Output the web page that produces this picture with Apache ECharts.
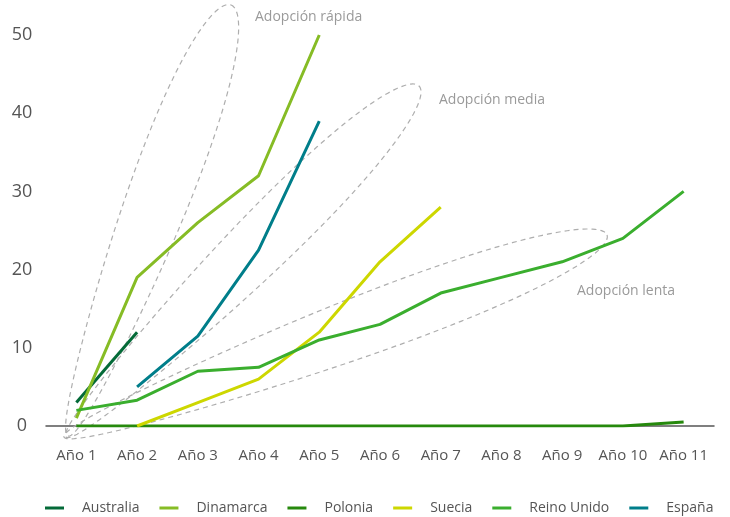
<!DOCTYPE html>
<html><head><meta charset="utf-8">
<script src="https://cdn.jsdelivr.net/npm/echarts@6/dist/echarts.min.js"></script>
<style>html,body{margin:0;padding:0;background:#fff}#c{width:730px;height:517px}</style>
</head><body><div id="c"></div>
<script>
const categories = ['Año 1','Año 2','Año 3','Año 4','Año 5','Año 6','Año 7','Año 8','Año 9','Año 10','Año 11'];
const australia  = [3, 12, null, null, null, null, null, null, null, null, null];
const dinamarca  = [1, 19, 26, 32, 50, null, null, null, null, null, null];
const polonia    = [0, 0, 0, 0, 0, 0, 0, 0, 0, 0, 0.5];
const suecia     = [null, 0, 3, 6, 12, 21, 28, null, null, null, null];
const reinoUnido = [2, 3.3, 7, 7.5, 11, 13, 17, 19, 21, 24, 30];
const espana     = [null, 5, 11.5, 22.5, 39, null, null, null, null, null, null];
const yTicks = [0, 10, 20, 30, 40, 50];
const groupLabels = ['Adopción rápida', 'Adopción media', 'Adopción lenta'];

const FONT = '"Open Sans", "Noto Sans", sans-serif';
const names = ['Australia','Dinamarca','Polonia','Suecia','Reino Unido','España'];
const colors = ['#046A38','#86BC25','#26890D','#CDD700','#3AAE2E','#007E8A'];
const dataSets = [australia, dinamarca, polonia, suecia, reinoUnido, espana];

// egg-shaped dashed outline from p1 (narrow end) to p2 (round end)
function eggPts(x1, y1, x2, y2, b, k) {
  const cx = (x1 + x2) / 2, cy = (y1 + y2) / 2;
  const a = Math.hypot(x2 - x1, y2 - y1) / 2;
  const th = Math.atan2(y2 - y1, x2 - x1);
  const pts = [];
  for (let i = 0; i < 200; i++) {
    const t = i / 200 * Math.PI * 2;
    const u = a * Math.cos(t);
    const v = b * Math.sin(t) * (1 + k * Math.cos(t)) / (1 + k * 0.3);
    pts.push([cx + u * Math.cos(th) - v * Math.sin(th), cy + u * Math.sin(th) + v * Math.cos(th)]);
  }
  return pts;
}
const ellStyle = { fill: null, stroke: '#aeaeae', lineWidth: 1.2, lineDash: [5, 4] };
const graphics = [
  { type: 'polygon', z: 1, shape: { points: eggPts(68, 436, 231, 5, 33, 0.3) }, style: ellStyle },
  { type: 'polygon', z: 1, shape: { points: eggPts(66, 437, 419, 86, 32, 0.3) }, style: ellStyle },
  { type: 'polygon', z: 1, shape: { points: eggPts(64, 437, 607, 235, 32, 0.3) }, style: ellStyle },
  { type: 'text', z: 3, x: 255, y: 17, style: { text: groupLabels[0], font: '14px ' + FONT, fill: '#9a9a9a', verticalAlign: 'middle' } },
  { type: 'text', z: 3, x: 439, y: 100, style: { text: groupLabels[1], font: '14px ' + FONT, fill: '#9a9a9a', verticalAlign: 'middle' } },
  { type: 'text', z: 3, x: 577, y: 291, style: { text: groupLabels[2], font: '14px ' + FONT, fill: '#9a9a9a', verticalAlign: 'middle' } }
];

const chart = echarts.init(document.getElementById('c'));
chart.setOption({
  animation: false,
  backgroundColor: '#fff',
  grid: { left: 46, right: 16, top: 35, bottom: 91 },
  legend: {
    left: 45, top: 501, padding: 0,
    icon: 'rect', itemWidth: 19, itemHeight: 3, itemGap: 20,
    textStyle: { fontFamily: FONT, fontSize: 14, color: '#555', padding: [0, 0, 0, 13] },
    data: names
  },
  xAxis: {
    type: 'category', data: categories, boundaryGap: true,
    axisLine: { lineStyle: { color: '#555', width: 1.5 } },
    axisTick: { show: false },
    axisLabel: { fontFamily: FONT, fontSize: 15, color: '#555', margin: 22, interval: 0 }
  },
  yAxis: {
    type: 'value', min: yTicks[0], max: yTicks[yTicks.length - 1], interval: 10,
    axisLine: { show: false }, axisTick: { show: false }, splitLine: { show: false },
    axisLabel: { fontFamily: FONT, fontSize: 18, color: '#555', align: 'center', margin: 24 }
  },
  graphic: graphics,
  series: dataSets.map((d, i) => ({
    name: names[i], type: 'line', data: d, symbol: 'none', z: 2,
    lineStyle: { width: 3, color: colors[i] }, itemStyle: { color: colors[i] }
  }))
});
</script></body></html>
